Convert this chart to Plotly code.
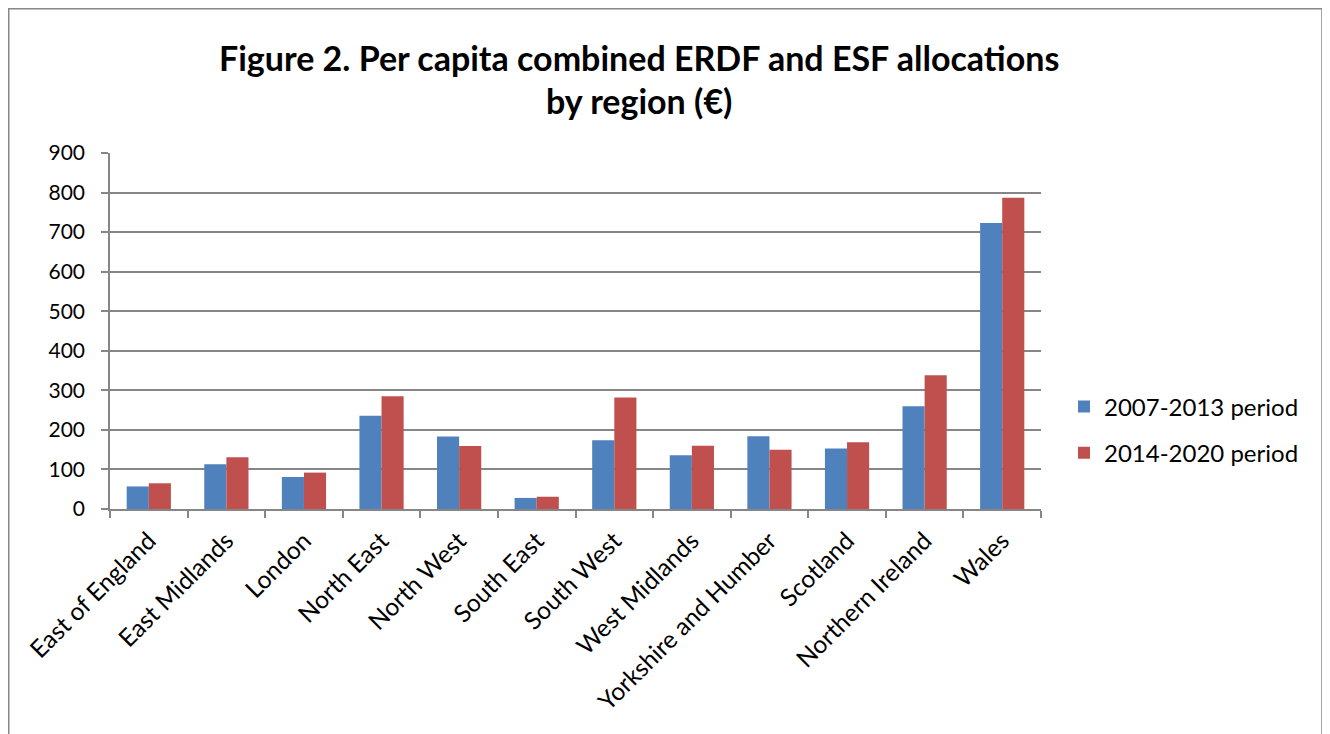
import plotly.graph_objects as go

regions = ["East of England", "East Midlands", "London", "North East", "North West",
           "South East", "South West", "West Midlands", "Yorkshire and Humber",
           "Scotland", "Northern Ireland", "Wales"]
period_2007_2013 = [57, 113, 81, 236, 183, 28, 174, 136, 184, 153, 260, 723]
period_2014_2020 = [65, 131, 92, 285, 159, 31, 282, 160, 150, 169, 338, 787]
y_ticks = [0, 100, 200, 300, 400, 500, 600, 700, 800, 900]
title_lines = ["Figure 2. Per capita combined ERDF and ESF allocations", "by region (€)"]

FONT = "Lato"
OFF = 8  # page body margin

fig = go.Figure()
fig.add_trace(go.Bar(x=regions, y=period_2007_2013, name="2007-2013 period",
                     legendgroup="a",
                     marker=dict(color="#4F81BD", line=dict(width=0))))
fig.add_trace(go.Bar(x=regions, y=period_2014_2020, name="2014-2020 period",
                     legendgroup="b",
                     marker=dict(color="#C0504D", line=dict(width=0))))

W, H = 1322, 726
L, R, T, B = 110 - OFF, 1041 - OFF, 153 - OFF, 509 - OFF
pw, ph = R - L, B - T

def px_x(x):
    return (x - OFF - L) / pw

def px_y(y):
    return (B - (y - OFF)) / ph

annotations = [
    dict(text="<b>%s</b>" % title_lines[0], xref="paper", yref="paper",
         x=px_x(639), y=px_y(57), xanchor="center", yanchor="middle", showarrow=False,
         font=dict(family=FONT, size=34, color="black")),
    dict(text="<b>%s</b>" % title_lines[1], xref="paper", yref="paper",
         x=px_x(639), y=px_y(100), xanchor="center", yanchor="middle", showarrow=False,
         font=dict(family=FONT, size=34, color="black")),
]

fig.update_layout(
    width=W, height=H,
    margin=dict(l=L, r=W - R, t=T, b=H - B, pad=0),
    paper_bgcolor="white", plot_bgcolor="white",
    barmode="group", bargap=0.43, bargroupgap=0,
    font=dict(family=FONT, color="black", size=20),
    annotations=annotations,
    legend=dict(x=px_x(1064), xanchor="left", y=px_y(430), yanchor="middle",
                font=dict(family=FONT, size=24, color="black"),
                bgcolor="rgba(0,0,0,0)", tracegroupgap=12),
    xaxis=dict(tickangle=-45, showline=True, linecolor="#868686", linewidth=1.5,
               ticks="outside", tickson="boundaries", ticklen=7, tickcolor="#868686",
               tickwidth=1.5, ticklabelstandoff=6,
               tickfont=dict(family=FONT, size=24.5, color="black"), showgrid=False),
    yaxis=dict(range=[0, 900], tickvals=y_ticks, showline=True, linecolor="#868686",
               linewidth=1.5, ticks="outside", ticklen=7, tickcolor="#868686",
               tickwidth=1.5, ticklabelstandoff=12,
               gridcolor="#868686", gridwidth=1.5, zeroline=False,
               tickfont=dict(family=FONT, size=21, color="black")),
    shapes=[dict(type="rect", xref="paper", yref="paper",
                 x0=px_x(8.75), x1=px_x(1322),
                 y0=px_y(780), y1=px_y(8.75),
                 line=dict(color="#888888", width=1.5), fillcolor="rgba(0,0,0,0)",
                 layer="below")],
)

fig.write_html("out.html")
